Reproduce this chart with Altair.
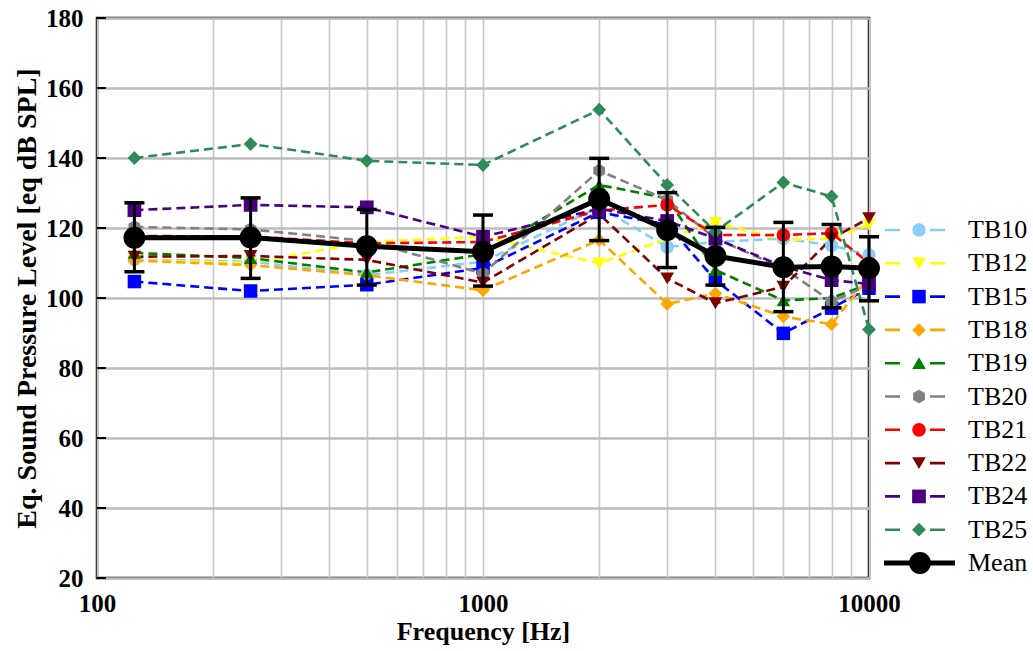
import altair as alt
import pandas as pd

freqs = [125, 250, 500, 1000, 2000, 3000, 4000, 6000, 8000, 10000]
series_names = ["TB10", "TB12", "TB15", "TB18", "TB19", "TB20", "TB21", "TB22", "TB24", "TB25"]
tb10 = [111.0, 110.4, 106.5, 110.4, 126.0, 114.6, 116.0, 117.0, 115.0, 112.3]
tb12 = [110.8, 110.0, 116.0, 117.5, 109.9, 117.0, 121.5, 116.6, 117.0, 121.0]
tb15 = [104.7, 102.0, 103.8, 108.6, 124.5, 121.0, 105.1, 89.9, 97.1, 102.8]
tb18 = [110.7, 109.4, 106.5, 102.2, 116.6, 98.3, 101.3, 94.7, 92.5, 106.0]
tb19 = [112.9, 111.4, 107.3, 112.5, 132.3, 128.5, 108.0, 99.3, 100.0, 104.0]
tb20 = [120.3, 119.6, 116.3, 107.0, 136.4, 128.0, 117.0, 108.5, 99.0, 103.7]
tb21 = [117.7, 117.6, 115.6, 116.0, 125.0, 126.6, 118.0, 118.0, 118.5, 110.0]
tb22 = [111.8, 112.0, 110.9, 104.4, 124.0, 105.6, 98.5, 103.2, 117.0, 122.8]
tb24 = [125.1, 126.6, 125.9, 117.5, 125.5, 122.0, 117.0, 109.0, 105.1, 104.0]
tb25 = [140.0, 144.0, 139.2, 138.0, 153.8, 132.3, 119.0, 133.0, 129.0, 91.0]
mean_vals = [117.2, 117.3, 114.8, 113.2, 128.3, 119.4, 112.0, 108.8, 109.0, 108.5]
err_lo = [107.5, 105.6, 103.7, 103.4, 116.4, 108.7, 103.7, 96.1, 97.2, 99.2]
err_hi = [127.2, 128.6, 125.3, 123.7, 139.9, 130.1, 120.2, 121.6, 121.0, 117.5]
y_major = [20, 40, 60, 80, 100, 120, 140, 160, 180]
y_grid = list(range(20, 181, 5))
x_grid = [100, 200, 300, 400, 500, 600, 700, 800, 900, 1000, 2000, 3000, 4000,
          5000, 6000, 7000, 8000, 9000, 10000]

colors = ["#87CEFA", "#FFFF00", "#0000FF", "#FFA500", "#008000", "#808080",
          "#FF0000", "#800000", "#4B0082", "#2E8B57"]
hexagon = "M0,-1L0.866,-0.5L0.866,0.5L0,1L-0.866,0.5L-0.866,-0.5Z"
shapes = ["circle", "triangle-down", "square", "diamond", "triangle-up", hexagon,
          "circle", "triangle-down", "square", "diamond"]
sizes = [180, 190, 150, 240, 190, 170, 180, 190, 150, 240]

all_series = [tb10, tb12, tb15, tb18, tb19, tb20, tb21, tb22, tb24, tb25]
rows = []
for name, vals in zip(series_names, all_series):
    for f, v in zip(freqs, vals):
        rows.append({"series": name, "freq": f, "spl": v})
df = pd.DataFrame(rows)
mdf = pd.DataFrame({"freq": freqs, "spl": mean_vals, "lo": err_lo, "hi": err_hi})

FONT = "Liberation Serif"
W, H = 772, 560

xscale = alt.Scale(type="log", domain=[100, 10000], nice=False)
yscale = alt.Scale(domain=[20, 180], nice=False, zero=False)
cscale = alt.Scale(domain=series_names, range=colors)
sscale = alt.Scale(domain=series_names, range=shapes)
zscale = alt.Scale(domain=series_names, range=sizes)

xaxis = alt.Axis(values=x_grid, labelExpr="(datum.value==100||datum.value==1000||datum.value==10000) ? datum.label : ''",
                 format="d", ticks=False, domain=False, grid=True, gridColor="#c8c8c8", gridWidth=1.6,
                 labelFont=FONT, labelFontWeight="bold", labelFontSize=25, labelColor="black",
                 labelPadding=13, title="Frequency [Hz]", titleFont=FONT, titleFontWeight="bold",
                 titleFontSize=26, titleColor="black", titlePadding=2, labelFlush=False,
                 labelOverlap=False)
yaxis = alt.Axis(values=y_grid, labelExpr="datum.value % 20 === 0 ? datum.label : ''",
                 ticks=False, domain=False, grid=True,
                 gridColor={"condition": {"test": "datum.value % 20 === 0", "value": "#bdbdbd"}, "value": "#d6d6d6"},
                 gridWidth={"condition": {"test": "datum.value % 20 === 0", "value": 2.5}, "value": 1.4},
                 labelFont=FONT, labelFontWeight="bold", labelFontSize=25, labelColor="black",
                 labelPadding=14, title="Eq. Sound Pressure Level [eq dB SPL]", titleFont=FONT,
                 titleFontWeight="bold", titleFontSize=28, titleColor="black", titlePadding=4,
                 labelFlush=False, labelOverlap=False)

base = alt.Chart(df)
lines = base.mark_line(strokeDash=[9, 5], strokeWidth=2.6).encode(
    x=alt.X("freq:Q", scale=xscale, axis=xaxis),
    y=alt.Y("spl:Q", scale=yscale, axis=yaxis),
    color=alt.Color("series:N", scale=cscale, legend=None),
    detail="series:N",
)
pts = base.mark_point(filled=True, opacity=1).encode(
    x=alt.X("freq:Q", scale=xscale),
    y=alt.Y("spl:Q", scale=yscale),
    color=alt.Color("series:N", scale=cscale, legend=None),
    shape=alt.Shape("series:N", scale=sscale, legend=None),
    size=alt.Size("series:N", scale=zscale, legend=None),
)
mbase = alt.Chart(mdf)
mline = mbase.mark_line(color="black", strokeWidth=5).encode(
    x=alt.X("freq:Q", scale=xscale), y=alt.Y("spl:Q", scale=yscale))
merr = mbase.mark_rule(color="black", strokeWidth=3).encode(
    x=alt.X("freq:Q", scale=xscale), y=alt.Y("lo:Q", scale=yscale), y2="hi:Q")
mcap_lo = mbase.mark_point(shape="stroke", size=400, strokeWidth=3.5, color="black", opacity=1).encode(
    x=alt.X("freq:Q", scale=xscale), y=alt.Y("lo:Q", scale=yscale))
mcap_hi = mbase.mark_point(shape="stroke", size=400, strokeWidth=3.5, color="black", opacity=1).encode(
    x=alt.X("freq:Q", scale=xscale), y=alt.Y("hi:Q", scale=yscale))
mpts = mbase.mark_point(shape="circle", filled=True, size=480, color="black", opacity=1).encode(
    x=alt.X("freq:Q", scale=xscale), y=alt.Y("spl:Q", scale=yscale))
yticks = alt.Chart(pd.DataFrame({"v": y_major})).mark_rule(color="black", strokeWidth=2).encode(
    y=alt.Y("v:Q", scale=yscale), x=alt.value(0), x2=alt.value(9))

main = alt.layer(lines, pts, yticks, merr, mline, mcap_lo, mcap_hi, mpts)

# legend drawn as marks
leg_names = series_names + ["Mean"]
lscale = alt.Scale(type="point", domain=leg_names, range=[212, 545], padding=0)
ldf = pd.DataFrame({"series": series_names})
lmean = pd.DataFrame({"series": ["Mean"]})
lrule = alt.Chart(ldf).mark_rule(strokeDash=[15, 30], strokeWidth=2.6).encode(
    y=alt.Y("series:N", scale=lscale, axis=None),
    x=alt.value(788), x2=alt.value(848),
    color=alt.Color("series:N", scale=cscale, legend=None))
lpts = alt.Chart(ldf).mark_point(filled=True, opacity=1).encode(
    y=alt.Y("series:N", scale=lscale, axis=None), x=alt.value(822),
    color=alt.Color("series:N", scale=cscale, legend=None),
    shape=alt.Shape("series:N", scale=sscale, legend=None),
    size=alt.Size("series:N", scale=zscale, legend=None))
ltext = alt.Chart(pd.DataFrame({"series": leg_names})).mark_text(
    align="left", baseline="middle", font=FONT, fontSize=26, color="black").encode(
    y=alt.Y("series:N", scale=lscale, axis=None), x=alt.value(871), text="series:N")
lmrule = alt.Chart(lmean).mark_rule(strokeWidth=5, color="black").encode(
    y=alt.Y("series:N", scale=lscale, axis=None), x=alt.value(787), x2=alt.value(858))
lmpt = alt.Chart(lmean).mark_point(shape="circle", filled=True, size=480, color="black", opacity=1).encode(
    y=alt.Y("series:N", scale=lscale, axis=None), x=alt.value(823))
legend = alt.layer(lrule, lpts, lmrule, lmpt, ltext)

chart = alt.layer(main, legend).resolve_scale(y="independent").properties(
    width=W, height=H,
    autosize=alt.AutoSizeParams(type="none"),
    padding={"left": 97, "top": 18, "right": 1033 - 97 - W, "bottom": 651 - 18 - H},
    background="white",
).configure_view(stroke="black", strokeWidth=2.5)

chart.save("out.html", embed_options={"renderer": "svg", "actions": False})
